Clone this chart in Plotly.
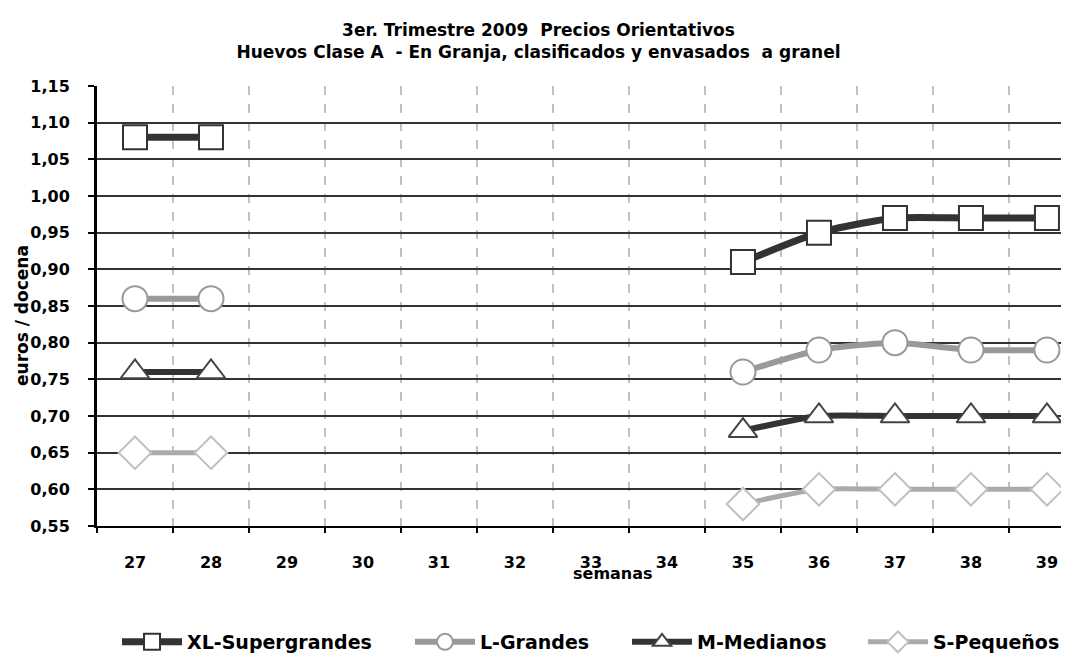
import plotly.graph_objects as go

semanas = ["27", "28", "29", "30", "31", "32", "33", "34", "35", "36", "37", "38", "39"]
xl = [1.08, 1.08, None, None, None, None, None, None, 0.91, 0.95, 0.97, 0.97, 0.97]
l_ = [0.86, 0.86, None, None, None, None, None, None, 0.76, 0.79, 0.80, 0.79, 0.79]
m_ = [0.76, 0.76, None, None, None, None, None, None, 0.68, 0.70, 0.70, 0.70, 0.70]
s_ = [0.65, 0.65, None, None, None, None, None, None, 0.58, 0.60, 0.60, 0.60, 0.60]
y_ticks = [0.55, 0.60, 0.65, 0.70, 0.75, 0.80, 0.85, 0.90, 0.95, 1.00, 1.05, 1.10, 1.15]

# name, values, line colour, line width, marker symbol, marker outline, marker size, legend id, legend x
series = [
    ("XL-Supergrandes", xl, "#333333", 7, "square", "#333333", 24, "legend", 0.0206),
    ("L-Grandes", l_, "#999999", 6, "circle", "#999999", 25, "legend2", 0.322),
    ("M-Medianos", m_, "#333333", 6, "triangle-up", "#444444", 25, "legend3", 0.5453),
    ("S-Pequeños", s_, "#aaaaaa", 5, "diamond", "#c0c0c0", 25, "legend4", 0.788),
]

font_fam = "DejaVu Sans, Verdana, sans-serif"

fig = go.Figure()
legends = {}
for name, vals, col, w, sym, mcol, msize, lg, lx in series:
    fig.add_trace(go.Scatter(
        x=semanas, y=vals, name=name, mode="lines+markers",
        line=dict(color=col, width=w, shape="spline", smoothing=0.6),
        marker=dict(symbol=sym, size=msize, color="white",
                    line=dict(color=mcol, width=2)),
        connectgaps=False, legend=lg,
    ))
    legends[lg] = dict(orientation="h", x=lx, xanchor="left", y=-0.2636, yanchor="middle",
                       font=dict(size=19, family=font_fam, color="black", weight="bold"),
                       itemwidth=60, bgcolor="rgba(0,0,0,0)", borderwidth=0)

fig.update_layout(
    width=1061, height=647,
    paper_bgcolor="white", plot_bgcolor="white",
    separators=", ",
    margin=dict(l=89, r=0, t=78, b=129, autoexpand=False),
    font=dict(family=font_fam, color="black", size=16, weight="bold"),
    title=dict(
        text="3er. Trimestre 2009  Precios Orientativos<br>Huevos Clase A  - En Granja, clasificados y envasados  a granel",
        x=0.5, xanchor="center", xref="container",
        y=1 - 27.5 / 647, yanchor="middle", yref="container",
        font=dict(size=17, family=font_fam, color="black", weight="bold"),
    ),
    showlegend=True,
    xaxis=dict(
        type="category", categoryorder="array", categoryarray=semanas,
        range=[-0.5, 12.29],
        tickson="boundaries", ticks="outside", ticklen=5, tickwidth=2, tickcolor="black",
        showline=True, linecolor="black", linewidth=2,
        showgrid=True, gridcolor="#c0c0c0", gridwidth=2, griddash="dash",
        tickfont=dict(size=16, weight="bold"),
        ticklabelstandoff=21,
    ),
    yaxis=dict(
        range=[0.55, 1.15], tickvals=y_ticks, tickformat=".2f",
        ticks="outside", ticklen=6, tickwidth=2, tickcolor="black",
        showline=True, linecolor="black", linewidth=3,
        showgrid=True, gridcolor="#333333", gridwidth=2,
        zeroline=False,
        tickfont=dict(size=16, weight="bold"),
        ticklabelstandoff=15,
    ),
    annotations=[
        dict(text="euros / docena", textangle=-90, xref="paper", yref="paper",
             x=(14 - 89) / 972, y=(518 - 308) / 440, xanchor="center", yanchor="middle",
             showarrow=False, font=dict(size=17, weight="bold")),
        dict(text="semanas", xref="paper", yref="paper",
             x=(605 - 89) / 972, y=(518 - 565) / 440, xanchor="center", yanchor="middle",
             showarrow=False, font=dict(size=16, weight="bold")),
    ],
    **legends,
)

fig.write_html("out.html")
